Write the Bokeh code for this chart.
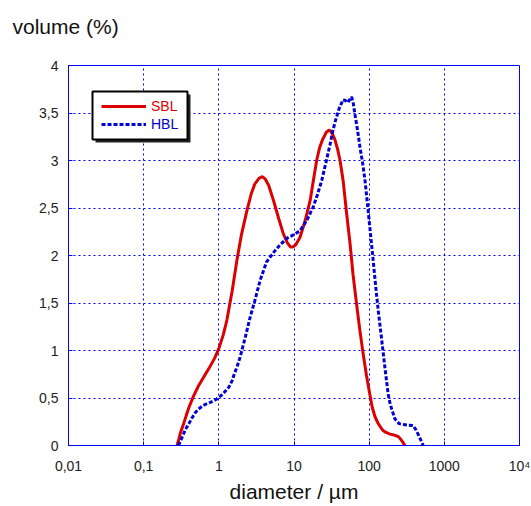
from bokeh.plotting import figure
from bokeh.models import (Range1d, FixedTicker, Legend, LegendItem, BoxAnnotation)
from bokeh.embed import file_html
from bokeh.resources import INLINE

# ---- data ----
sbl_d = [0.278, 0.29, 0.31, 0.34, 0.37, 0.40, 0.46, 0.53, 0.63, 0.75, 0.88, 1.0, 1.15,
         1.28, 1.5, 1.74, 2.0, 2.36, 2.7, 3.0, 3.4, 3.73, 4.1, 4.6, 5.33, 6.2, 7.2, 8.2,
         9.0, 9.6, 10.5, 12, 14, 16.4, 18.1, 20, 22, 24, 27, 29.5, 32, 35, 38, 41, 45,
         50, 55.6, 61, 68, 75, 83, 92, 102, 110, 120, 130, 140, 152, 165, 189, 215, 243,
         260, 280, 299]
sbl_v = [0.0, 0.05, 0.14, 0.23, 0.32, 0.40, 0.52, 0.62, 0.72, 0.82, 0.92, 1.02, 1.17,
         1.32, 1.62, 1.95, 2.22, 2.47, 2.65, 2.75, 2.81, 2.83, 2.81, 2.74, 2.58, 2.40, 2.23,
         2.13, 2.09, 2.09, 2.11, 2.19, 2.36, 2.58, 2.79, 3.0, 3.14, 3.22, 3.30, 3.32, 3.29,
         3.22, 3.12, 3.0, 2.79, 2.45, 2.13, 1.80, 1.49, 1.22, 0.97, 0.74, 0.54, 0.40, 0.30,
         0.24, 0.20, 0.16, 0.14, 0.12, 0.11, 0.095, 0.07, 0.035, 0.0]

hbl_d = [0.29, 0.31, 0.33, 0.36, 0.40, 0.44, 0.48, 0.53, 0.57, 0.65, 0.75, 0.85, 0.94,
         1.05, 1.15, 1.35, 1.5, 1.6, 1.75, 1.92, 2.25, 2.61, 3.0, 3.55, 4.3, 5.33, 6.5,
         8.0, 10, 12, 13.5, 15, 18, 20.5, 23.4, 27, 30, 33, 36.5, 40, 45, 48.5, 51.8, 55,
         58.5, 61.5, 64.6, 70, 75.5, 82, 88, 97, 105, 113, 122, 132, 143, 154, 166, 179,
         190, 200, 220, 250, 282, 330, 385, 415, 447, 485, 522]
hbl_v = [0.0, 0.05, 0.10, 0.17, 0.23, 0.29, 0.34, 0.38, 0.40, 0.43, 0.45, 0.47, 0.49,
         0.52, 0.55, 0.61, 0.68, 0.75, 0.83, 0.93, 1.14, 1.35, 1.52, 1.74, 1.93, 2.03, 2.11,
         2.18, 2.22, 2.26, 2.32, 2.38, 2.51, 2.64, 2.79, 3.0, 3.16, 3.32, 3.45, 3.55, 3.64,
         3.63, 3.61, 3.64, 3.67, 3.60, 3.49, 3.32, 3.14, 2.97, 2.79, 2.47, 2.20, 1.95, 1.68,
         1.42, 1.19, 0.97, 0.75, 0.54, 0.44, 0.38, 0.28, 0.23, 0.22, 0.215, 0.21, 0.17,
         0.12, 0.06, 0.0]

x_ticks = [0.01, 0.1, 1, 10, 100, 1000, 10000]
x_tick_labels = ["0,01", "0,1", "1", "10", "100", "1000", "10\u2074"]
y_ticks = [0, 0.5, 1, 1.5, 2, 2.5, 3, 3.5, 4]
y_tick_labels = ["0", "0,5", "1", "1,5", "2", "2,5", "3", "3,5", "4"]

RED = "#dc0000"
BLUE = "#0000d2"
GRID = "#0000ff"
FONT = "Liberation Sans"

p = figure(width=531, height=506, x_axis_type="log",
           x_range=Range1d(0.01, 10000), y_range=Range1d(0, 4),
           output_backend="svg", toolbar_location=None,
           min_border_left=68, min_border_right=12, min_border_top=65, min_border_bottom=61)

# y-axis caption written horizontally above the plot (extra blank line lifts it)
p.title.text = "volume (%)\n\u00a0"
p.title.text_font = FONT
p.title.text_font_size = "21px"
p.title.text_font_style = "normal"
p.title.text_color = "#111111"
p.title.text_line_height = 1.0
p.title.align = "left"
p.title.offset = -56

r_sbl = p.line(sbl_d, sbl_v, line_color=RED, line_width=3)
r_hbl = p.line(hbl_d, hbl_v, line_color=BLUE, line_width=3, line_dash="4 2")

# axes
p.xaxis.ticker = FixedTicker(ticks=x_ticks)
p.yaxis.ticker = FixedTicker(ticks=y_ticks)
p.xaxis.major_label_overrides = dict(zip(x_ticks, x_tick_labels))
p.yaxis.major_label_overrides = dict(zip(y_ticks, y_tick_labels))
for ax in (p.xaxis[0], p.yaxis[0]):
    ax.axis_line_color = GRID
    ax.major_tick_line_color = GRID
    ax.major_tick_in = 4
    ax.major_tick_out = 0
    ax.minor_tick_line_color = None
    ax.major_label_text_font = FONT
    ax.major_label_text_font_size = "14px"
    ax.major_label_text_color = "#222222"
    ax.axis_label_text_font = FONT
    ax.axis_label_text_font_size = "21px"
    ax.axis_label_text_font_style = "normal"
    ax.axis_label_text_color = "#111111"
p.xaxis.axis_label = "diameter / \u00b5m"
p.xaxis.major_label_standoff = 12
p.xaxis.axis_label_standoff = 3
p.yaxis.major_label_standoff = 10

p.outline_line_color = GRID
p.outline_line_width = 1
p.outline_line_alpha = 1

for g in (p.xgrid[0], p.ygrid[0]):
    g.grid_line_color = GRID
    g.grid_line_dash = "2 3"
    g.grid_line_width = 1

# legend box with shadow
p.add_layout(BoxAnnotation(left=27, right=122, top=351, bottom=303,
                           left_units="screen", right_units="screen",
                           top_units="screen", bottom_units="screen",
                           fill_color="#222222", fill_alpha=1, line_color=None))
p.add_layout(BoxAnnotation(left=24, right=119, top=354, bottom=306,
                           left_units="screen", right_units="screen",
                           top_units="screen", bottom_units="screen",
                           fill_color="white", fill_alpha=1,
                           line_color="black", line_width=2, line_alpha=1))

common = dict(border_line_color=None, background_fill_alpha=0, padding=0, margin=0,
              glyph_width=45, glyph_height=16, label_height=16, label_standoff=5,
              label_text_font=FONT, label_text_font_size="14px")
leg1 = Legend(items=[LegendItem(label="SBL", renderers=[r_sbl])], location=(33, 331),
              label_text_color=RED, **common)
leg2 = Legend(items=[LegendItem(label="HBL", renderers=[r_hbl])], location=(33, 313),
              label_text_color=BLUE, **common)
p.add_layout(leg1)
p.add_layout(leg2)

open("out.html", "w").write(file_html(p, INLINE))
